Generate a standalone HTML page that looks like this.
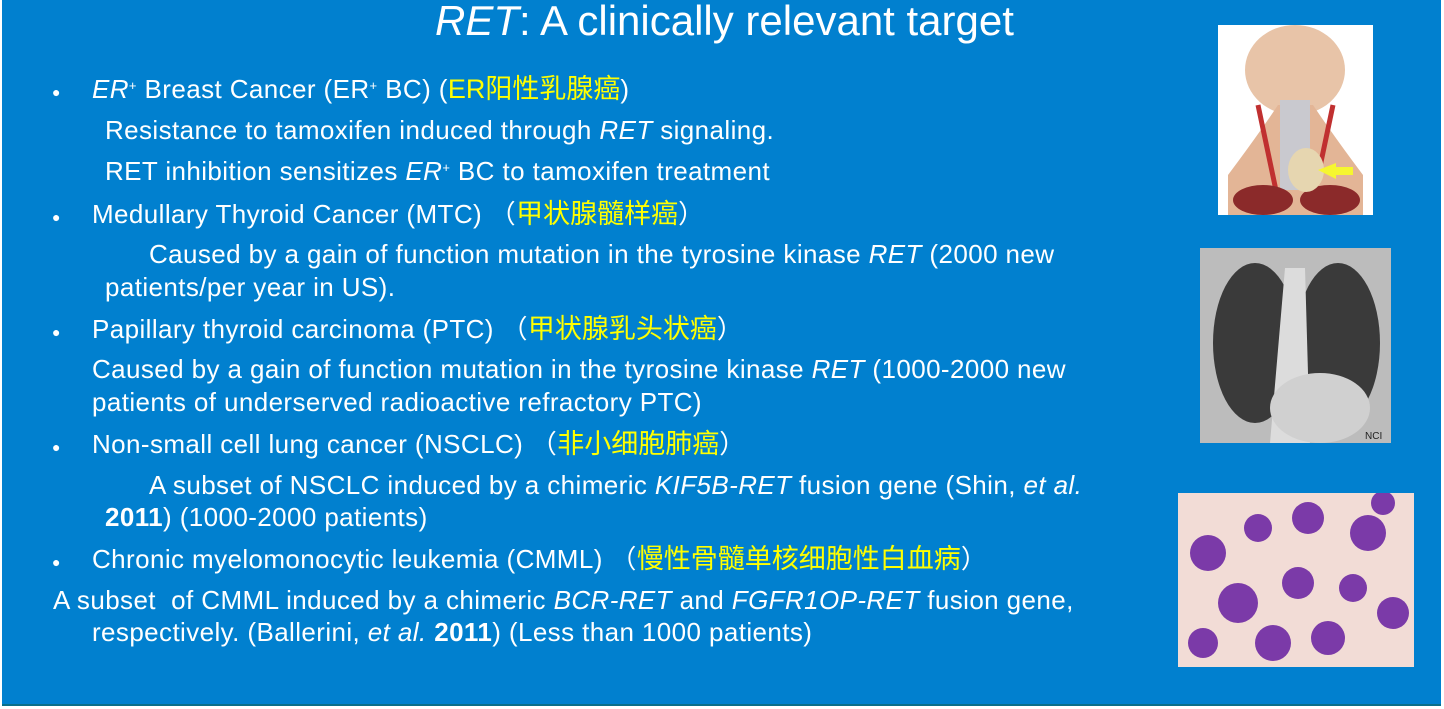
<!DOCTYPE html>
<html><head><meta charset="utf-8"><style>
body{margin:0;width:1444px;height:709px;background:#fff;overflow:hidden;position:relative;font-family:"Liberation Sans","Noto Sans CJK SC",sans-serif}
#bg{position:absolute;left:2px;top:0;width:1439px;height:704px;background:#0180cf;border-bottom:2px solid #0a6f8a}
.t{position:absolute;color:#fff;font-size:26px;letter-spacing:0.4px;line-height:28px;white-space:nowrap}
.y{color:#ffff00;letter-spacing:0;font-size:27px}
.b{position:absolute;color:#fff;font-size:14px;left:52px}
sup{font-size:13px;vertical-align:8px;line-height:0}
</style></head><body>
<div id="bg"></div>
<div class="t" style="left:435px;top:-1px;font-size:42px;letter-spacing:0;line-height:44px"><i>RET</i>: A clinically relevant target</div>
<div class="b" style="top:84px">●</div>
<div class="t" style="left:92px;top:75px"><i>ER</i><sup>+</sup> Breast Cancer (ER<sup>+</sup> BC) (<span class="y">ER阳性乳腺癌</span>)</div>
<div class="t" style="left:105px;top:116px">Resistance to tamoxifen induced through <i>RET</i> signaling.</div>
<div class="t" style="left:105px;top:157px">RET inhibition sensitizes <i>ER</i><sup>+</sup> BC to tamoxifen treatment</div>
<div class="b" style="top:209px">●</div>
<div class="t" style="left:92px;top:200px">Medullary Thyroid Cancer (MTC) （<span class="y">甲状腺髓样癌</span>）</div>
<div class="t" style="left:149px;top:240px">Caused by a gain of function mutation in the tyrosine kinase <i>RET</i> (2000 new</div>
<div class="t" style="left:105px;top:273px">patients/per year in US).</div>
<div class="b" style="top:324px">●</div>
<div class="t" style="left:92px;top:315px">Papillary thyroid carcinoma (PTC) （<span class="y">甲状腺乳头状癌</span>）</div>
<div class="t" style="left:92px;top:355px">Caused by a gain of function mutation in the tyrosine kinase <i>RET</i> (1000-2000 new</div>
<div class="t" style="left:92px;top:388px">patients of underserved radioactive refractory PTC)</div>
<div class="b" style="top:439px">●</div>
<div class="t" style="left:92px;top:430px">Non-small cell lung cancer (NSCLC) （<span class="y">非小细胞肺癌</span>）</div>
<div class="t" style="left:149px;top:471px">A subset of NSCLC induced by a chimeric <i>KIF5B-RET</i> fusion gene (Shin, <i>et al.</i></div>
<div class="t" style="left:105px;top:503px"><b>2011</b>) (1000-2000 patients)</div>
<div class="b" style="top:554px">●</div>
<div class="t" style="left:92px;top:545px">Chronic myelomonocytic leukemia (CMML) （<span class="y">慢性骨髓单核细胞性白血病</span>）</div>
<div class="t" style="left:53px;top:586px">A subset &nbsp;of CMML induced by a chimeric <i>BCR-RET</i> and <i>FGFR1OP-RET</i> fusion gene,</div>
<div class="t" style="left:92px;top:618px">respectively. (Ballerini, <i>et al.</i> <b>2011</b>) (Less than 1000 patients)</div>

<svg style="position:absolute;left:1218px;top:25px" width="155" height="190">
<rect width="155" height="190" fill="#fff"/>
<ellipse cx="77" cy="45" rx="50" ry="45" fill="#e8c4a8"/>
<path d="M10 150 Q40 110 60 80 L95 80 Q115 110 145 150 L145 190 L10 190Z" fill="#e3b596"/>
<rect x="62" y="75" width="30" height="90" fill="#c9c9cf"/>
<path d="M40 80 L60 175 M115 80 L95 175" stroke="#c03030" stroke-width="5"/>
<ellipse cx="45" cy="175" rx="30" ry="15" fill="#8b2a2a"/>
<ellipse cx="112" cy="175" rx="30" ry="15" fill="#8b2a2a"/>
<ellipse cx="88" cy="145" rx="18" ry="22" fill="#e6d6b0"/>
<path d="M100 145 L118 138 L118 142 L135 142 L135 150 L118 150 L118 154Z" fill="#f6f630"/>
</svg>
<svg style="position:absolute;left:1200px;top:248px" width="191" height="195">
<rect width="191" height="195" fill="#bcbcbc"/>
<ellipse cx="55" cy="95" rx="42" ry="80" fill="#3a3a3a"/>
<ellipse cx="138" cy="95" rx="42" ry="80" fill="#3a3a3a"/>
<path d="M85 20 L105 20 L110 195 L70 195Z" fill="#dcdcdc"/>
<ellipse cx="120" cy="160" rx="50" ry="35" fill="#d0d0d0"/>
<text x="165" y="191" font-size="10" fill="#222" font-family="Liberation Sans">NCI</text>
</svg>
<svg style="position:absolute;left:1178px;top:493px" width="236" height="174">
<rect width="236" height="174" fill="#f2dcd6"/>
<g fill="#7b3aa8">
<circle cx="30" cy="60" r="18"/><circle cx="80" cy="35" r="14"/><circle cx="130" cy="25" r="16"/><circle cx="190" cy="40" r="18"/>
<circle cx="60" cy="110" r="20"/><circle cx="120" cy="90" r="16"/><circle cx="175" cy="95" r="14"/><circle cx="215" cy="120" r="16"/>
<circle cx="25" cy="150" r="15"/><circle cx="95" cy="150" r="18"/><circle cx="150" cy="145" r="17"/><circle cx="205" cy="10" r="12"/>
</g>
</svg>
</body></html>
